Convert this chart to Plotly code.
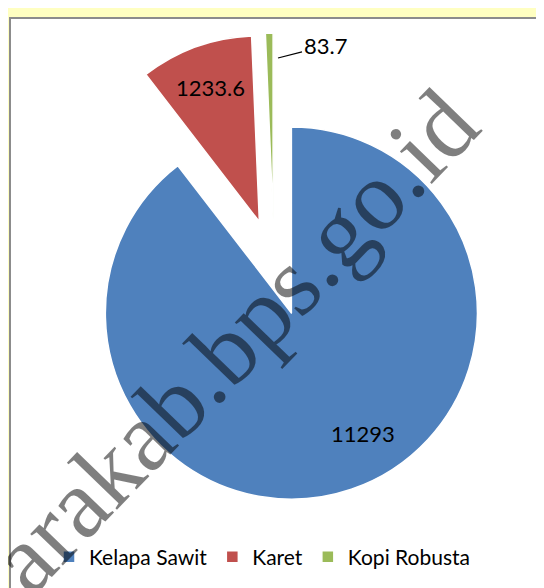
import plotly.graph_objects as go

# data
komoditas = ["Kelapa Sawit", "Karet", "Kopi Robusta"]
produksi = [11293, 1233.6, 83.7]
warna = ["#4F81BD", "#C0504D", "#9BBB59"]
tarik = [0.29, 0.23, 0.23]

W, H = 544, 588
L, R, T, B = 26, 38, 14, 94
pw, ph = W - L - R, H - T - B


def px(x):
    return (x - L) / pw


def py(y):
    return 1 - (y - T) / ph


label = [f"{v:g}" for v in produksi]

fig = go.Figure(go.Pie(
    labels=komoditas, values=produksi,
    marker=dict(colors=warna, line=dict(color="white", width=1.5)),
    pull=tarik, sort=False, direction="clockwise", rotation=0,
    text=["", label[1], ""], textinfo="text",
    textposition="inside", insidetextorientation="horizontal",
    textfont=dict(color="black", size=22, family="Lato"),
    hoverinfo="label+value",
))

# white chart panel on the yellow page
fig.add_shape(type="rect", xref="paper", yref="paper", layer="below",
              x0=px(2), x1=px(560), y0=py(600), y1=py(10),
              fillcolor="white", line=dict(color="#8C8C8C", width=2))

# data labels for the large and the tiny slice
fig.add_annotation(text=label[0], xref="paper", yref="paper",
                   x=px(355), y=py(425), xanchor="center", yanchor="middle",
                   showarrow=False,
                   font=dict(family="Lato", size=22, color="black"))
fig.add_annotation(text=label[2], xref="paper", yref="paper",
                   x=px(270), y=py(50), ax=47, ay=-12,
                   showarrow=True, arrowhead=0, arrowwidth=1.2, arrowcolor="black",
                   font=dict(family="Lato", size=22, color="black"))

# watermark
fig.add_annotation(text="tarakab.bps.go.id", xref="paper", yref="paper",
                   x=px(215), y=py(343), xanchor="center", yanchor="middle",
                   textangle=-46, showarrow=False,
                   font=dict(family="Liberation Serif", size=99, color="rgba(0,0,0,0.5)"))

fig.update_layout(width=W, height=H, paper_bgcolor="#FFFFC1", plot_bgcolor="white",
                  margin=dict(l=L, r=R, t=T, b=B, autoexpand=False),
                  font=dict(family="Lato", color="black"),
                  legend=dict(orientation="h", x=px(254), xanchor="center",
                              y=py(549), yanchor="middle",
                              font=dict(size=21, color="black"),
                              bgcolor="rgba(0,0,0,0)", itemwidth=30),
                  showlegend=True)

fig.write_html("out.html")
